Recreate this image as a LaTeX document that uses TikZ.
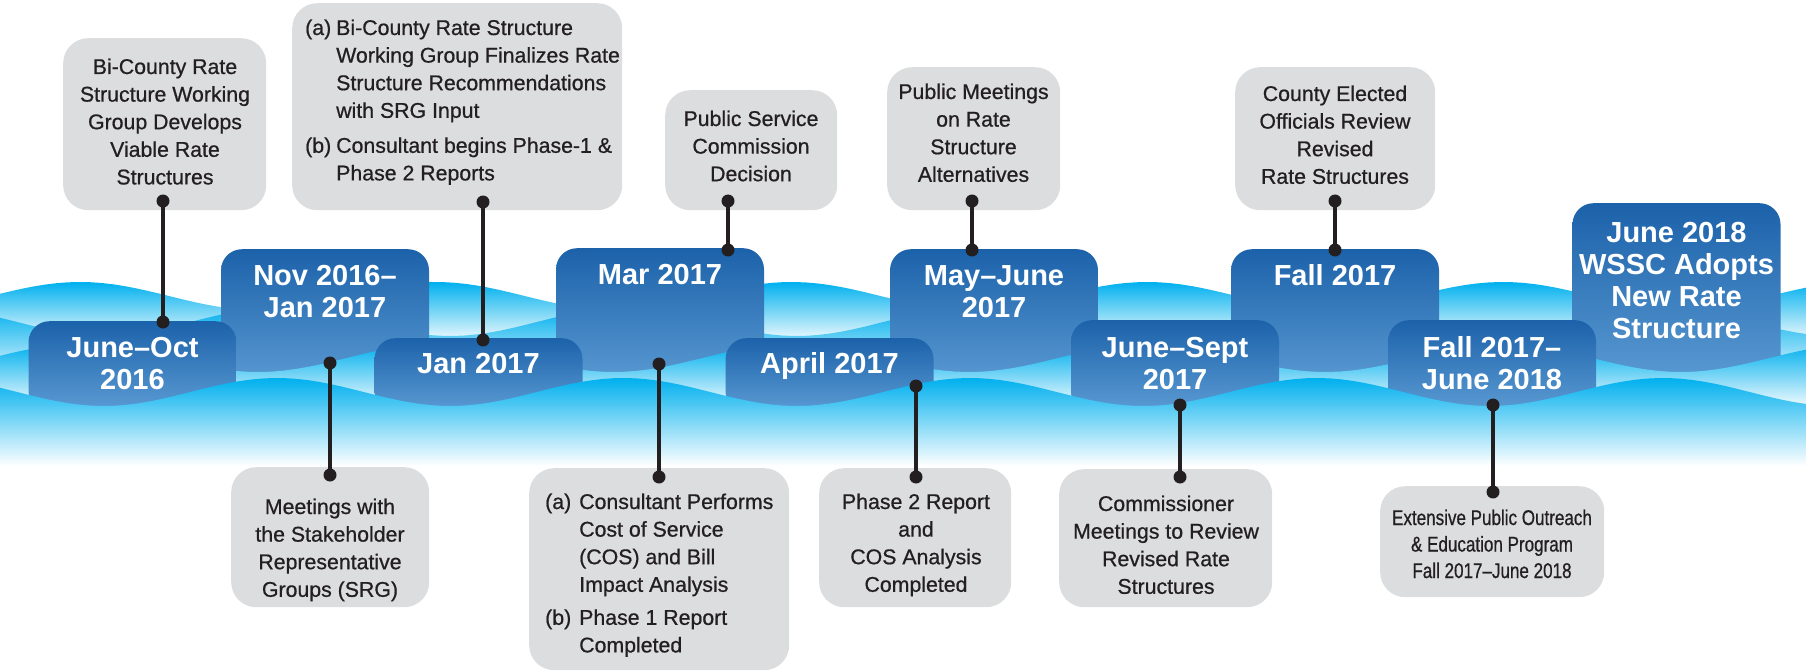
\documentclass[tikz,border=0pt]{standalone}
\usepackage{fontspec}
\setmainfont{Liberation Sans}
\newfontfamily\greyfont{Liberation Sans}[FakeBold=0.7]
\newfontfamily\narrowfont{Liberation Sans}[FakeBold=0.7, FakeStretch=0.8]
\definecolor{boxgray}{RGB}{220,221,223}
\definecolor{inkc}{RGB}{35,31,32}
\definecolor{boxtop}{RGB}{28,98,170}
\definecolor{boxbot}{RGB}{92,156,212}
\definecolor{wavecyan}{RGB}{0,176,238}
\tikzset{
  greybox/.style={fill=boxgray, rounded corners=25pt, inner sep=0pt, anchor=north west},
  gtext/.style={font=\greyfont\fontsize{21.3}{27.6}\selectfont, text=inkc, inner sep=0pt, anchor=base},
  btext/.style={font=\fontsize{29}{32.5}\selectfont\bfseries, text=white, inner sep=0pt, anchor=base},
  bluebox/.style={rounded corners=21pt, top color=boxtop, bottom color=boxbot, minimum width=208pt, anchor=north, inner sep=0pt},
  pinline/.style={draw=inkc, line width=4pt},
  pindot/.style={fill=inkc},
}
\newcommand{\wavea}[1]{#1-14*cos((\x-80)/355.75*360)}
\newcommand{\waveb}[1]{#1-14*cos((\x-277)/346.5*360)}
\begin{document}
\begin{tikzpicture}[x=1pt,y=-1pt]
\useasboundingbox (0,0) rectangle (1806,671);
% back waves
\shade[top color=wavecyan, bottom color=wavecyan!6] plot[domain=0:1806, samples=160] (\x,{\wavea{296}}) -- (1806,340) -- (0,340) -- cycle;
\shade[top color=wavecyan, bottom color=wavecyan!6] plot[domain=0:1806, samples=160] (\x,{\waveb{322}}) -- (1806,380) -- (0,380) -- cycle;
% back boxes
\node[bluebox, minimum height=139pt] (nov) at (325,249) {};
\node[bluebox, minimum height=139pt] (mar) at (660,248) {};
\node[bluebox, minimum height=139pt] (may) at (994,249) {};
\node[bluebox, minimum height=139pt] (fall) at (1335,249) {};
\node[bluebox, minimum height=185pt] (jun18) at (1676.5,203) {};
% middle wave
\shade[top color=wavecyan, middle color=wavecyan!35, bottom color=white] plot[domain=0:1806, samples=160] (\x,{\wavea{358}}) -- (1806,410) -- (0,410) -- cycle;
% front boxes
\node[bluebox, minimum height=91pt] (junoct) at (132.5,321) {};
\node[bluebox, minimum height=74pt] (jan) at (478.5,338) {};
\node[bluebox, minimum height=74pt] (apr) at (829.5,338) {};
\node[bluebox, minimum height=92pt] (junsep) at (1175,320) {};
\node[bluebox, minimum height=92pt] (fall18) at (1492,320) {};
% front wave
\shade[top color=wavecyan, middle color=wavecyan!45, bottom color=white] plot[domain=0:1806, samples=160] (\x,{\waveb{392}}) -- (1806,466) -- (0,466) -- cycle;
% blue box texts
\node[btext] (tjunoct) at (132.5,357) {\begin{tabular}[t]{@{}c@{}}June–Oct\\2016\end{tabular}};
\node[btext] (tnov) at (325,285) {\begin{tabular}[t]{@{}c@{}}Nov 2016–\\Jan 2017\end{tabular}};
\node[btext] (tjan) at (478.5,373) {Jan 2017};
\node[btext] (tmar) at (660,284) {Mar 2017};
\node[btext] (tapr) at (829.5,373) {April 2017};
\node[btext] (tmay) at (994,285) {\begin{tabular}[t]{@{}c@{}}May–June\\2017\end{tabular}};
\node[btext] (tjunsep) at (1175,357) {\begin{tabular}[t]{@{}c@{}}June–Sept\\2017\end{tabular}};
\node[btext] (tfall) at (1335,285) {Fall 2017};
\node[btext] (tfall18) at (1492,357) {\begin{tabular}[t]{@{}c@{}}Fall 2017–\\June 2018\end{tabular}};
\node[btext, font=\fontsize{29}{32}\selectfont\bfseries] (tjun18) at (1676.5,242) {\begin{tabular}[t]{@{}c@{}}June 2018\\WSSC Adopts\\New Rate\\Structure\end{tabular}};
% grey boxes
\node[greybox, minimum width=203pt, minimum height=172pt] (ga) at (63,38) {};
\node[greybox, minimum width=330pt, minimum height=207pt] (gb) at (292,3) {};
\node[greybox, minimum width=172pt, minimum height=120pt] (gc) at (665,90) {};
\node[greybox, minimum width=173pt, minimum height=143pt] (gd) at (887,67) {};
\node[greybox, minimum width=200pt, minimum height=143pt] (ge) at (1235,67) {};
\node[greybox, minimum width=198pt, minimum height=140pt] (gf) at (231,467) {};
\node[greybox, minimum width=260pt, minimum height=202pt] (gg) at (529,468) {};
\node[greybox, minimum width=192pt, minimum height=139pt] (gh) at (819,468) {};
\node[greybox, minimum width=213pt, minimum height=138pt] (gi) at (1059,469) {};
\node[greybox, minimum width=224pt, minimum height=111pt] (gj) at (1380,486) {};
% grey texts
\node[gtext] (ta) at (165,74) {\begin{tabular}[t]{@{}c@{}}Bi-County Rate\\Structure Working\\Group Develops\\Viable Rate\\Structures\end{tabular}};
\node[gtext, anchor=base west] (tb) at (305,35) {\begin{tabular}[t]{@{}l@{\hspace{5pt}}l@{}}(a)&Bi-County Rate Structure\\&Working Group Finalizes Rate\\&Structure Recommendations\\&with SRG Input\\[7.4pt](b)&Consultant begins Phase-1 \&\\&Phase 2 Reports\end{tabular}};
\node[gtext] (tc) at (751,126) {\begin{tabular}[t]{@{}c@{}}Public Service\\Commission\\Decision\end{tabular}};
\node[gtext] (td) at (973.5,99) {\begin{tabular}[t]{@{}c@{}}Public Meetings\\on Rate\\Structure\\Alternatives\end{tabular}};
\node[gtext] (te) at (1335,101) {\begin{tabular}[t]{@{}c@{}}County Elected\\Officials Review\\Revised\\Rate Structures\end{tabular}};
\node[gtext] (tf) at (330,514) {\begin{tabular}[t]{@{}c@{}}Meetings with\\the Stakeholder\\Representative\\Groups (SRG)\end{tabular}};
\node[gtext, anchor=base west] (tg) at (545,509) {\begin{tabular}[t]{@{}l@{\hspace{8pt}}l@{}}(a)&Consultant Performs\\&Cost of Service\\&(COS) and Bill\\&Impact Analysis\\[5.4pt](b)&Phase 1 Report\\&Completed\end{tabular}};
\node[gtext] (th) at (916,509) {\begin{tabular}[t]{@{}c@{}}Phase 2 Report\\and\\COS Analysis\\Completed\end{tabular}};
\node[gtext] (ti) at (1166,511) {\begin{tabular}[t]{@{}c@{}}Commissioner\\Meetings to Review\\Revised Rate\\Structures\end{tabular}};
\node[gtext, font=\narrowfont\fontsize{21.3}{26.5}\selectfont] (tj) at (1492,525) {\begin{tabular}[t]{@{}c@{}}Extensive Public Outreach\\\& Education Program\\Fall 2017–June 2018\end{tabular}};
% pins
\coordinate (pa1) at (163,201); \coordinate (pa2) at (163,322);
\coordinate (pb1) at (483,202); \coordinate (pb2) at (483,340);
\coordinate (pc1) at (728,201); \coordinate (pc2) at (728,250);
\coordinate (pd1) at (972,201); \coordinate (pd2) at (972,250);
\coordinate (pe1) at (1335,201); \coordinate (pe2) at (1335,250);
\coordinate (pf1) at (330,363); \coordinate (pf2) at (330,475);
\coordinate (pg1) at (659,364); \coordinate (pg2) at (659,477);
\coordinate (ph1) at (916,386); \coordinate (ph2) at (916,477);
\coordinate (pi1) at (1180,405); \coordinate (pi2) at (1180,477);
\coordinate (pj1) at (1493,405); \coordinate (pj2) at (1493,492);
\foreach \p in {a,b,c,d,e,f,g,h,i,j}{
  \draw[pinline] (p\p1) -- (p\p2);
  \fill[pindot] (p\p1) circle[radius=6.5pt];
  \fill[pindot] (p\p2) circle[radius=6.5pt];
}
\end{tikzpicture}
\end{document}
